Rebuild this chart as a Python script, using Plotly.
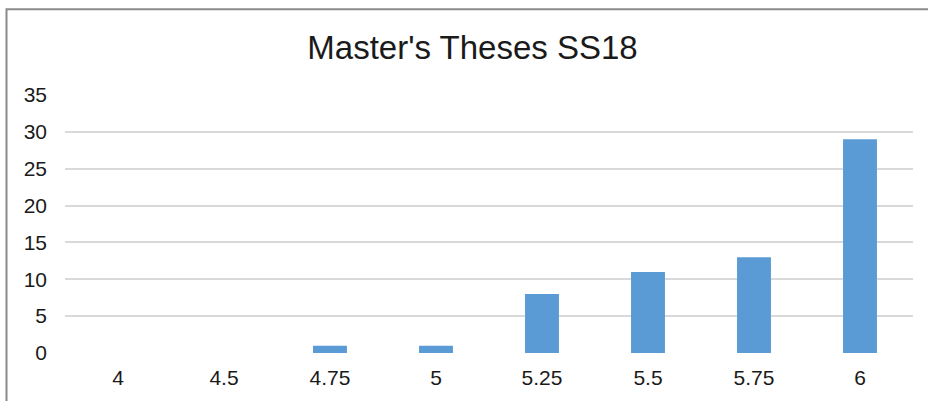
import plotly.graph_objects as go

categories = ["4", "4.5", "4.75", "5", "5.25", "5.5", "5.75", "6"]
counts = [0, 0, 1, 1, 8, 11, 13, 29]
y_ticks = [0, 5, 10, 15, 20, 25, 30, 35]

W, H = 928, 401
L, R, T, B = 65, 15, 95, 46
pw, ph = W - L - R, H - T - B

fig = go.Figure(go.Bar(x=categories, y=counts, marker=dict(color="#5B9BD5", line=dict(width=0)),
                       hoverinfo="x+y"))

fig.update_layout(
    width=W, height=H,
    margin=dict(l=L, r=R, t=T, b=B),
    paper_bgcolor="white", plot_bgcolor="white",
    bargap=0.68,
    showlegend=False,
    title=dict(text="Master's Theses SS18", x=472.5 / W, xref="container", xanchor="center",
               y=1 - 47 / H, yref="container", yanchor="middle",
               font=dict(family="Liberation Sans, Arial", size=33, color="#1a1a1a")),
    font=dict(family="Liberation Sans, Arial", size=21, color="#1a1a1a"),
    xaxis=dict(type="category", showgrid=False, showline=False, zeroline=False, ticks="",
               ticklabelstandoff=10, tickfont=dict(size=21)),
    yaxis=dict(range=[0, 35], tickvals=y_ticks, showgrid=True, gridcolor="#d9d9d9", gridwidth=1.5,
               zeroline=False, showline=False, ticks="", ticklabelstandoff=17, tickfont=dict(size=21)),
    shapes=[dict(type="rect", xref="paper", yref="paper",
                 x0=(6.5 - L) / pw, x1=(W + 10 - L) / pw,
                 y0=-(H + 10 - T - ph) / ph, y1=(H - B - 8.5) / ph,
                 line=dict(color="#8a8a8a", width=2), fillcolor="rgba(0,0,0,0)", layer="above")],
)

fig.write_html("out.html", config={"displayModeBar": False},
               post_script="document.body.style.margin='0';document.body.style.padding='0';")
